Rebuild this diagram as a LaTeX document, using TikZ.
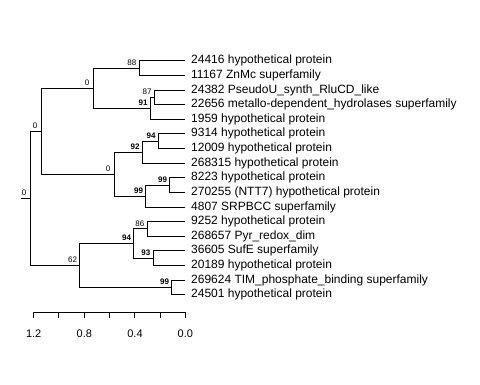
\documentclass[tikz,border=0pt]{standalone}
\usepackage{fontspec}
\setmainfont{Liberation Sans}
\begin{document}
\begin{tikzpicture}[x=1pt,y=-1pt,
  br/.style={draw=black,line width=0.9pt},
  leaf/.style={anchor=west,inner sep=0pt,font=\fontsize{12}{14}\selectfont},
  bs/.style={anchor=south east,inner sep=0pt,xshift=-2.5pt,yshift=2.6pt,font=\fontsize{8}{9}\selectfont},
  bsb/.style={bs,font=\fontsize{8}{9}\selectfont\bfseries},
  bz/.style={bs,xshift=-1.2pt},
  ax/.style={inner sep=0pt,font=\fontsize{11}{13}\selectfont}]
\useasboundingbox (0,0) rectangle (480,384);
% leaves
\foreach \i/\y/\t in {
 1/60.7/24416 hypothetical protein,
 2/75.3/11167 ZnMc superfamily,
 3/89.95/24382 PseudoU\_synth\_RluCD\_like,
 4/104.6/22656 metallo-dependent\_hydrolases superfamily,
 5/119.2/1959 hypothetical protein,
 6/133.8/9314 hypothetical protein,
 7/148.45/12009 hypothetical protein,
 8/163.1/268315 hypothetical protein,
 9/177.7/8223 hypothetical protein,
 10/192.3/270255 (NTT7) hypothetical protein,
 11/206.95/4807 SRPBCC superfamily,
 12/221.6/9252 hypothetical protein,
 13/236.2/268657 Pyr\_redox\_dim,
 14/250.8/36605 SufE superfamily,
 15/265.45/20189 hypothetical protein,
 16/280.1/269624 TIM\_phosphate\_binding superfamily,
 17/294.7/24501 hypothetical protein}{
 \coordinate (t\i) at (185,\y);
 \node[leaf] (l\i) at (191,\y) {\t};
}
% internal nodes
\coordinate (na) at (139,68.0);
\coordinate (nb) at (154.3,97.28);
\coordinate (nc) at (150.3,108.24);
\coordinate (nd) at (93.3,88.12);
\coordinate (ne) at (158.3,141.1);
\coordinate (nf) at (142.3,152.1);
\coordinate (ng) at (169.7,185.0);
\coordinate (nh) at (145.7,195.98);
\coordinate (ni) at (114.3,174.04);
\coordinate (nj) at (41.3,131.08);
\coordinate (nk) at (147,228.9);
\coordinate (nl) at (153,258.1);
\coordinate (nm) at (133.7,243.5);
\coordinate (nn) at (171.7,287.4);
\coordinate (no) at (79.7,265.45);
\coordinate (root) at (30.3,198.27);
\coordinate (stub) at (20.7,198.27);
% branches
\foreach \p/\c in {na/t1,na/t2,nb/t3,nb/t4,nc/nb,nc/t5,nd/na,nd/nc,
  ne/t6,ne/t7,nf/ne,nf/t8,ng/t9,ng/t10,nh/ng,nh/t11,ni/nf,ni/nh,nj/nd,nj/ni,
  nk/t12,nk/t13,nl/t14,nl/t15,nm/nk,nm/nl,nn/t16,nn/t17,no/nm,no/nn,
  root/nj,root/no}{
  \draw[br] (\p) |- (\c);
}
\draw[br] (stub) -- (root);
% support labels
\node[bs] (s1) at (na) {88};
\node[bs] (s2) at (nb) {87};
\node[bsb] (s3) at (nc) {91};
\node[bz] (s4) at (nd) {0};
\node[bsb] (s5) at (ne) {94};
\node[bsb] (s6) at (nf) {92};
\node[bsb] (s7) at (ng) {99};
\node[bsb] (s8) at (nh) {99};
\node[bz] (s9) at (ni) {0};
\node[bz] (s10) at (nj) {0};
\node[bs] (s11) at (nk) {86};
\node[bsb] (s12) at (nl) {93};
\node[bsb] (s13) at (nm) {94};
\node[bsb] (s14) at (nn) {99};
\node[bs] (s15) at (no) {62};
\node[bz] (s16) at (root) {0};
% axis
\coordinate (a0) at (33.3,312.3);
\coordinate (a6) at (185.3,312.3);
\draw[br] (a0) -- (a6);
\foreach \k in {0,...,6}{
  \coordinate (k\k) at ({33.3+\k*25.333},312.3);
  \coordinate (kb\k) at ({33.3+\k*25.333},318.3);
  \draw[br] (k\k) -- (kb\k);
}
\node[ax] (x1) at (33.7,334) {1.2};
\node[ax] (x2) at (84.3,334) {0.8};
\node[ax] (x3) at (135,334) {0.4};
\node[ax] (x4) at (185.3,334) {0.0};
\end{tikzpicture}
\end{document}
